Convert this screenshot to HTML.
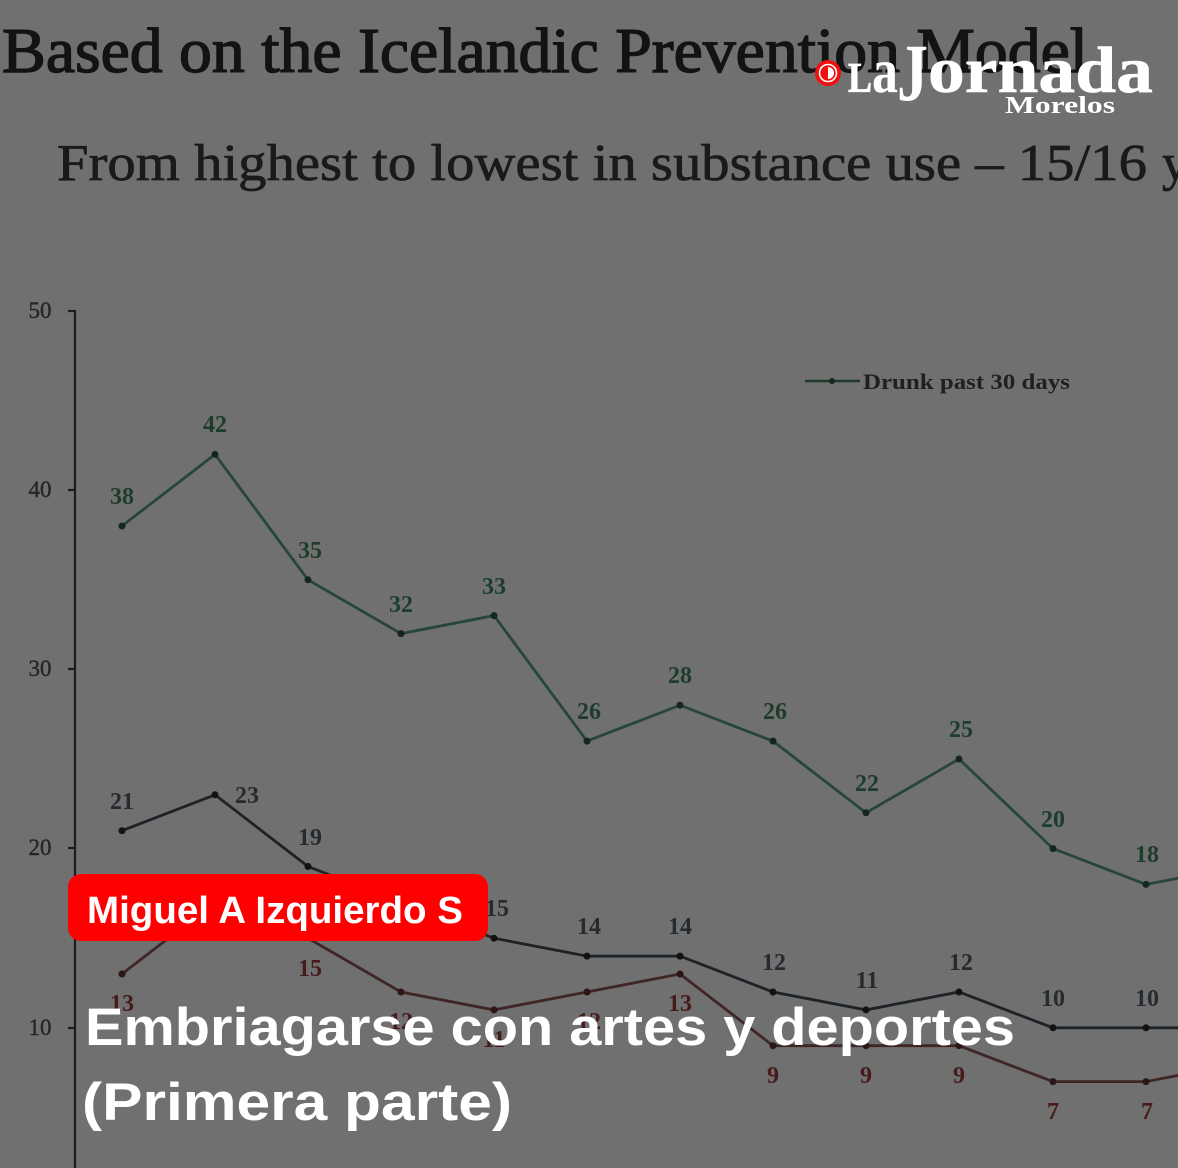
<!DOCTYPE html>
<html><head><meta charset="utf-8"><style>
html,body{margin:0;padding:0;background:#707070;}
svg{display:block;}
</style></head><body>
<svg width="1178" height="1168" viewBox="0 0 1178 1168" xmlns="http://www.w3.org/2000/svg">
<rect width="1178" height="1168" fill="#707070"/>

<!-- chart headings -->
<text x="2" y="72" font-family="Liberation Serif, serif" font-size="64" fill="#131313" stroke="#131313" stroke-width="1.4" textLength="1086" lengthAdjust="spacingAndGlyphs">Based on the Icelandic Prevention Model</text>
<text x="57" y="180" font-family="Liberation Serif, serif" font-size="52" fill="#1a1a1a" stroke="#1a1a1a" stroke-width="0.7" textLength="1090" lengthAdjust="spacingAndGlyphs">From highest to lowest in substance use – 15/16</text>
<text x="1162" y="180" font-family="Liberation Serif, serif" font-size="52" fill="#1a1a1a" stroke="#1a1a1a" stroke-width="0.7">y</text>

<!-- axis -->
<g stroke="#1c1c1c" stroke-width="2.2">
<line x1="75" y1="310" x2="75" y2="1168"/>
<line x1="68" y1="311" x2="75" y2="311"/>
<line x1="68" y1="490" x2="75" y2="490"/>
<line x1="68" y1="669" x2="75" y2="669"/>
<line x1="68" y1="848" x2="75" y2="848"/>
<line x1="68" y1="1028" x2="75" y2="1028"/>
</g>
<g font-family="Liberation Serif, serif" font-size="23" fill="#262626" stroke="#262626" stroke-width="0.4" text-anchor="middle">
<text x="40" y="318">50</text>
<text x="40" y="497">40</text>
<text x="40" y="676">30</text>
<text x="40" y="855">20</text>
<text x="40" y="1035">10</text>
</g>

<!-- legend -->
<line x1="805" y1="381" x2="860" y2="381" stroke="#1f3a2b" stroke-width="2.4"/>
<circle cx="832" cy="381" r="3" fill="#152a1f"/>
<text x="863" y="389" font-family="Liberation Serif, serif" font-size="22" font-weight="bold" fill="#202020" textLength="207" lengthAdjust="spacingAndGlyphs">Drunk past 30 days</text>

<!-- series -->
<polyline fill="none" stroke="#27463a" stroke-width="2.8" points="122,526 215,454.4 308,579.8 401,633.6 494,615.6 587,741.1 680,705.2 773,741.1 866,812.8 959,759 1053,848.6 1146,884.4 1239,866.5"/>
<polyline fill="none" stroke="#1d2226" stroke-width="2.8" points="122,830.7 215,794.8 308,866.5 401,902.4 494,938.2 587,956.1 680,956.1 773,992 866,1009.9 959,992 1053,1027.8 1146,1027.8 1239,1027.8"/>
<polyline fill="none" stroke="#3e2626" stroke-width="2.8" points="122,974 215,902.4 308,938.2 401,992 494,1009.9 587,992 680,974 773,1045.7 866,1045.7 959,1045.7 1053,1081.6 1146,1081.6 1239,1063.6"/>

<g fill="#15271d">
<circle cx="122" cy="526" r="3.5"/><circle cx="215" cy="454.4" r="3.5"/><circle cx="308" cy="579.8" r="3.5"/><circle cx="401" cy="633.6" r="3.5"/><circle cx="494" cy="615.6" r="3.5"/><circle cx="587" cy="741.1" r="3.5"/><circle cx="680" cy="705.2" r="3.5"/><circle cx="773" cy="741.1" r="3.5"/><circle cx="866" cy="812.8" r="3.5"/><circle cx="959" cy="759" r="3.5"/><circle cx="1053" cy="848.6" r="3.5"/><circle cx="1146" cy="884.4" r="3.5"/>
</g>
<g fill="#101214">
<circle cx="122" cy="830.7" r="3.5"/><circle cx="215" cy="794.8" r="3.5"/><circle cx="308" cy="866.5" r="3.5"/><circle cx="494" cy="938.2" r="3.5"/><circle cx="587" cy="956.1" r="3.5"/><circle cx="680" cy="956.1" r="3.5"/><circle cx="773" cy="992" r="3.5"/><circle cx="866" cy="1009.9" r="3.5"/><circle cx="959" cy="992" r="3.5"/><circle cx="1053" cy="1027.8" r="3.5"/><circle cx="1146" cy="1027.8" r="3.5"/>
</g>
<g fill="#2a1616">
<circle cx="122" cy="974" r="3.5"/><circle cx="401" cy="992" r="3.5"/><circle cx="494" cy="1009.9" r="3.5"/><circle cx="587" cy="992" r="3.5"/><circle cx="680" cy="974" r="3.5"/><circle cx="773" cy="1045.7" r="3.5"/><circle cx="866" cy="1045.7" r="3.5"/><circle cx="959" cy="1045.7" r="3.5"/><circle cx="1053" cy="1081.6" r="3.5"/><circle cx="1146" cy="1081.6" r="3.5"/>
</g>

<g font-family="Liberation Serif, serif" font-size="24" font-weight="bold" text-anchor="middle" fill="#1d3d2c">
<text x="122" y="504">38</text><text x="215" y="432">42</text><text x="310" y="558">35</text><text x="401" y="612">32</text><text x="494" y="594">33</text><text x="589" y="719">26</text><text x="680" y="683">28</text><text x="775" y="719">26</text><text x="867" y="791">22</text><text x="961" y="737">25</text><text x="1053" y="827">20</text><text x="1147" y="862">18</text>
</g>
<g font-family="Liberation Serif, serif" font-size="24" font-weight="bold" text-anchor="middle" fill="#262b30">
<text x="122" y="809">21</text><text x="247" y="803">23</text><text x="310" y="845">19</text><text x="497" y="916">15</text><text x="589" y="934">14</text><text x="680" y="934">14</text><text x="774" y="970">12</text><text x="867" y="988">11</text><text x="961" y="970">12</text><text x="1053" y="1006">10</text><text x="1147" y="1006">10</text>
</g>
<g font-family="Liberation Serif, serif" font-size="24" font-weight="bold" text-anchor="middle" fill="#481b1b">
<text x="122" y="1011">13</text><text x="310" y="976">15</text><text x="401" y="1029">12</text><text x="494" y="1047">11</text><text x="589" y="1029">12</text><text x="680" y="1011">13</text><text x="773" y="1083">9</text><text x="866" y="1083">9</text><text x="959" y="1083">9</text><text x="1053" y="1119">7</text><text x="1147" y="1119">7</text>
</g>

<!-- logo -->
<g>
<circle cx="828" cy="73" r="13" fill="#f01010"/>
<circle cx="828" cy="73" r="8.5" fill="none" stroke="#ffffff" stroke-width="1.6"/>
<path d="M828 67 A6 6 0 0 1 828 79 Z" fill="#ffffff"/>
<text x="848" y="92" font-family="Liberation Serif, serif" font-size="42" font-weight="bold" fill="#ffffff" stroke="#ffffff" stroke-width="0.8" textLength="24" lengthAdjust="spacingAndGlyphs">L</text>
<text x="872" y="92" font-family="Liberation Serif, serif" font-size="64" font-weight="bold" fill="#ffffff" textLength="26" lengthAdjust="spacingAndGlyphs">a</text>
<text x="897" y="100" font-family="Liberation Serif, serif" font-size="82" font-weight="bold" fill="#ffffff" textLength="31" lengthAdjust="spacingAndGlyphs">J</text>
<text x="928" y="92" font-family="Liberation Serif, serif" font-size="66" font-weight="bold" fill="#ffffff" stroke="#ffffff" stroke-width="0.6" textLength="225" lengthAdjust="spacingAndGlyphs">ornada</text>
<text x="1005" y="113" font-family="Liberation Serif, serif" font-size="24" font-weight="bold" fill="#ffffff" textLength="110" lengthAdjust="spacingAndGlyphs">Morelos</text>
</g>

<!-- author badge -->
<rect x="68" y="874" width="420" height="67" rx="13" ry="13" fill="#ff0000"/>
<text x="87" y="923" font-family="Liberation Sans, sans-serif" font-size="38" font-weight="bold" fill="#ffffff" textLength="376" lengthAdjust="spacingAndGlyphs">Miguel A Izquierdo S</text>

<!-- article title -->
<text x="85" y="1045" font-family="Liberation Sans, sans-serif" font-size="53" font-weight="bold" fill="#ffffff" textLength="930" lengthAdjust="spacingAndGlyphs">Embriagarse con artes y deportes</text>
<text x="82" y="1120" font-family="Liberation Sans, sans-serif" font-size="53" font-weight="bold" fill="#ffffff" textLength="430" lengthAdjust="spacingAndGlyphs">(Primera parte)</text>
</svg>
</body></html>
